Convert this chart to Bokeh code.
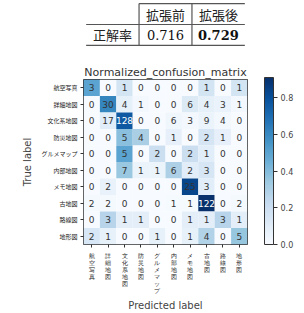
import numpy as np
from bokeh.plotting import figure
from bokeh.layouts import column
from bokeh.models import (ColumnDataSource, LinearColorMapper, ColorBar, FixedTicker,
                          PrintfTickFormatter, Range1d)
from bokeh.core.properties import value
from bokeh.palettes import Blues256
from bokeh.embed import file_html
from bokeh.resources import INLINE

# ---- data ----
methods = ["拡張前", "拡張後"]
accuracy = [0.716, 0.729]
row_label = "正解率"

classes = ["航空写真", "詳細地図", "文化系地図", "防災地図", "グルメマップ",
           "内部地図", "メモ地図", "古地図", "路線図", "地形図"]
counts = [
    [3, 0, 1, 0, 0, 0, 0, 1, 0, 1],
    [0, 30, 4, 1, 0, 0, 6, 4, 3, 1],
    [0, 17, 128, 0, 0, 6, 3, 9, 4, 0],
    [0, 0, 5, 4, 0, 1, 0, 2, 1, 0],
    [0, 0, 5, 0, 2, 0, 2, 1, 0, 0],
    [0, 0, 7, 1, 1, 6, 2, 3, 0, 0],
    [0, 2, 0, 0, 0, 0, 25, 3, 0, 0],
    [2, 2, 0, 0, 0, 1, 1, 122, 0, 2],
    [0, 3, 1, 1, 0, 0, 1, 1, 3, 1],
    [2, 1, 0, 0, 1, 0, 1, 4, 0, 5],
]
cbar_ticks = [0.0, 0.2, 0.4, 0.6, 0.8]

SERIF = value("DejaVu Serif")
JP = "Noto Sans CJK JP"

# ---- table figure ----
T_H = 56
t = figure(width=304, height=T_H, x_range=Range1d(-0.05, 3.05), y_range=Range1d(2.1, -0.1),
           output_backend="svg", toolbar_location=None,
           min_border_left=62, min_border_right=51, min_border_top=1, min_border_bottom=9)
t.axis.visible = False
t.grid.grid_line_color = None
t.outline_line_color = None
ncol = len(methods) + 1
lc = "#555555"
t.segment(x0=[1, 0, 0], y0=[0, 1, 2], x1=[ncol, ncol, ncol], y1=[0, 1, 2], line_color=lc, line_width=1.2)
t.segment(x0=[1, 2], y0=[0, 0], x1=[1, 2], y1=[2, 2], line_color=lc, line_width=1.2)
colx = [i + 1.5 for i in range(len(methods))]
t.text(x=colx, y=[0.5] * len(methods), text=methods, text_align="center", text_baseline="middle",
       text_font=value(JP), text_font_size="13px", text_color="#222222")
t.text(x=[0.5], y=[1.5], text=[row_label], text_align="center", text_baseline="middle",
       text_font=value(JP), text_font_size="13px", text_color="#222222")
best = int(np.argmax(accuracy))
for i, a in enumerate(accuracy):
    t.text(x=[colx[i]], y=[1.5], text=["%.3f" % a], text_align="center", text_baseline="middle",
           text_font=SERIF, text_font_size="13px", text_color="#111111",
           text_font_style="bold" if i == best else "normal")

# ---- confusion matrix figure ----
H = 313 - T_H
cm = np.array(counts, dtype=float)
norm = cm / cm.sum(axis=1, keepdims=True)
xf = ["\n".join(c) for c in classes]
xs, ys, vals, txt, tcol = [], [], [], [], []
thresh = cm.max() / 2
for i in range(len(classes)):
    for j in range(len(classes)):
        xs.append(xf[j]); ys.append(classes[i]); vals.append(norm[i, j])
        txt.append(str(int(cm[i, j])))
        tcol.append("#ffffff" if cm[i, j] > thresh else "#333333")
src = ColumnDataSource(dict(x=xs, y=ys, v=vals, t=txt, c=tcol))

mapper = LinearColorMapper(palette=list(reversed(Blues256)), low=0.0, high=0.91)
p = figure(width=304, height=H, x_range=xf, y_range=list(reversed(classes)),
           output_backend="svg", toolbar_location=None,
           min_border_left=83, min_border_right=57, min_border_top=23, min_border_bottom=67,
           title="Normalized_confusion_matrix")
p.title.align = "center"
p.title.text_font = "DejaVu Sans"
p.title.text_font_size = "11px"
p.title.text_font_style = "normal"
p.title.text_color = "#333333"
p.title.standoff = 2
p.rect(x="x", y="y", width=1, height=1, source=src,
       fill_color={"field": "v", "transform": mapper}, line_color=None)
p.text(x="x", y="y", text="t", source=src, text_align="center", text_baseline="middle",
       text_font=value("DejaVu Sans"), text_font_size="9px", text_color="c")
p.grid.grid_line_color = None
p.outline_line_color = "#333333"
p.axis.axis_line_color = None
p.axis.major_tick_in = 0
p.axis.major_tick_out = 3
p.axis.major_tick_line_color = "#333333"
p.axis.major_label_text_font_size = "6px"
p.axis.major_label_text_color = "#222222"
p.axis.major_label_standoff = 3
p.yaxis.major_label_text_font = JP
p.xaxis.major_label_text_font = "DejaVu Sans"
p.xaxis.major_label_text_line_height = 1.0
p.xaxis.major_label_standoff = 4
p.axis.axis_label_text_font = "DejaVu Sans"
p.axis.axis_label_text_font_size = "10px"
p.axis.axis_label_text_font_style = "normal"
p.axis.axis_label_text_color = "#444444"
p.xaxis.axis_label_standoff = 3
p.xaxis.axis_label = "Predicted label"
p.yaxis.axis_label = "True label"
p.xaxis.major_label_orientation = "horizontal"

cb = ColorBar(color_mapper=mapper, width=9, height=167, padding=0, location=(17, 0),
              ticker=FixedTicker(ticks=cbar_ticks), formatter=PrintfTickFormatter(format="%.1f"),
              major_label_text_font="DejaVu Sans", major_label_text_font_size="8px",
              major_label_text_color="#444444", major_tick_in=0, major_tick_out=4,
              major_tick_line_color="#333333", bar_line_color="#333333", label_standoff=3,
              background_fill_color=None)
p.add_layout(cb, "right")

layout = column(t, p, spacing=0)
open("out.html", "w").write(file_html(layout, INLINE))
